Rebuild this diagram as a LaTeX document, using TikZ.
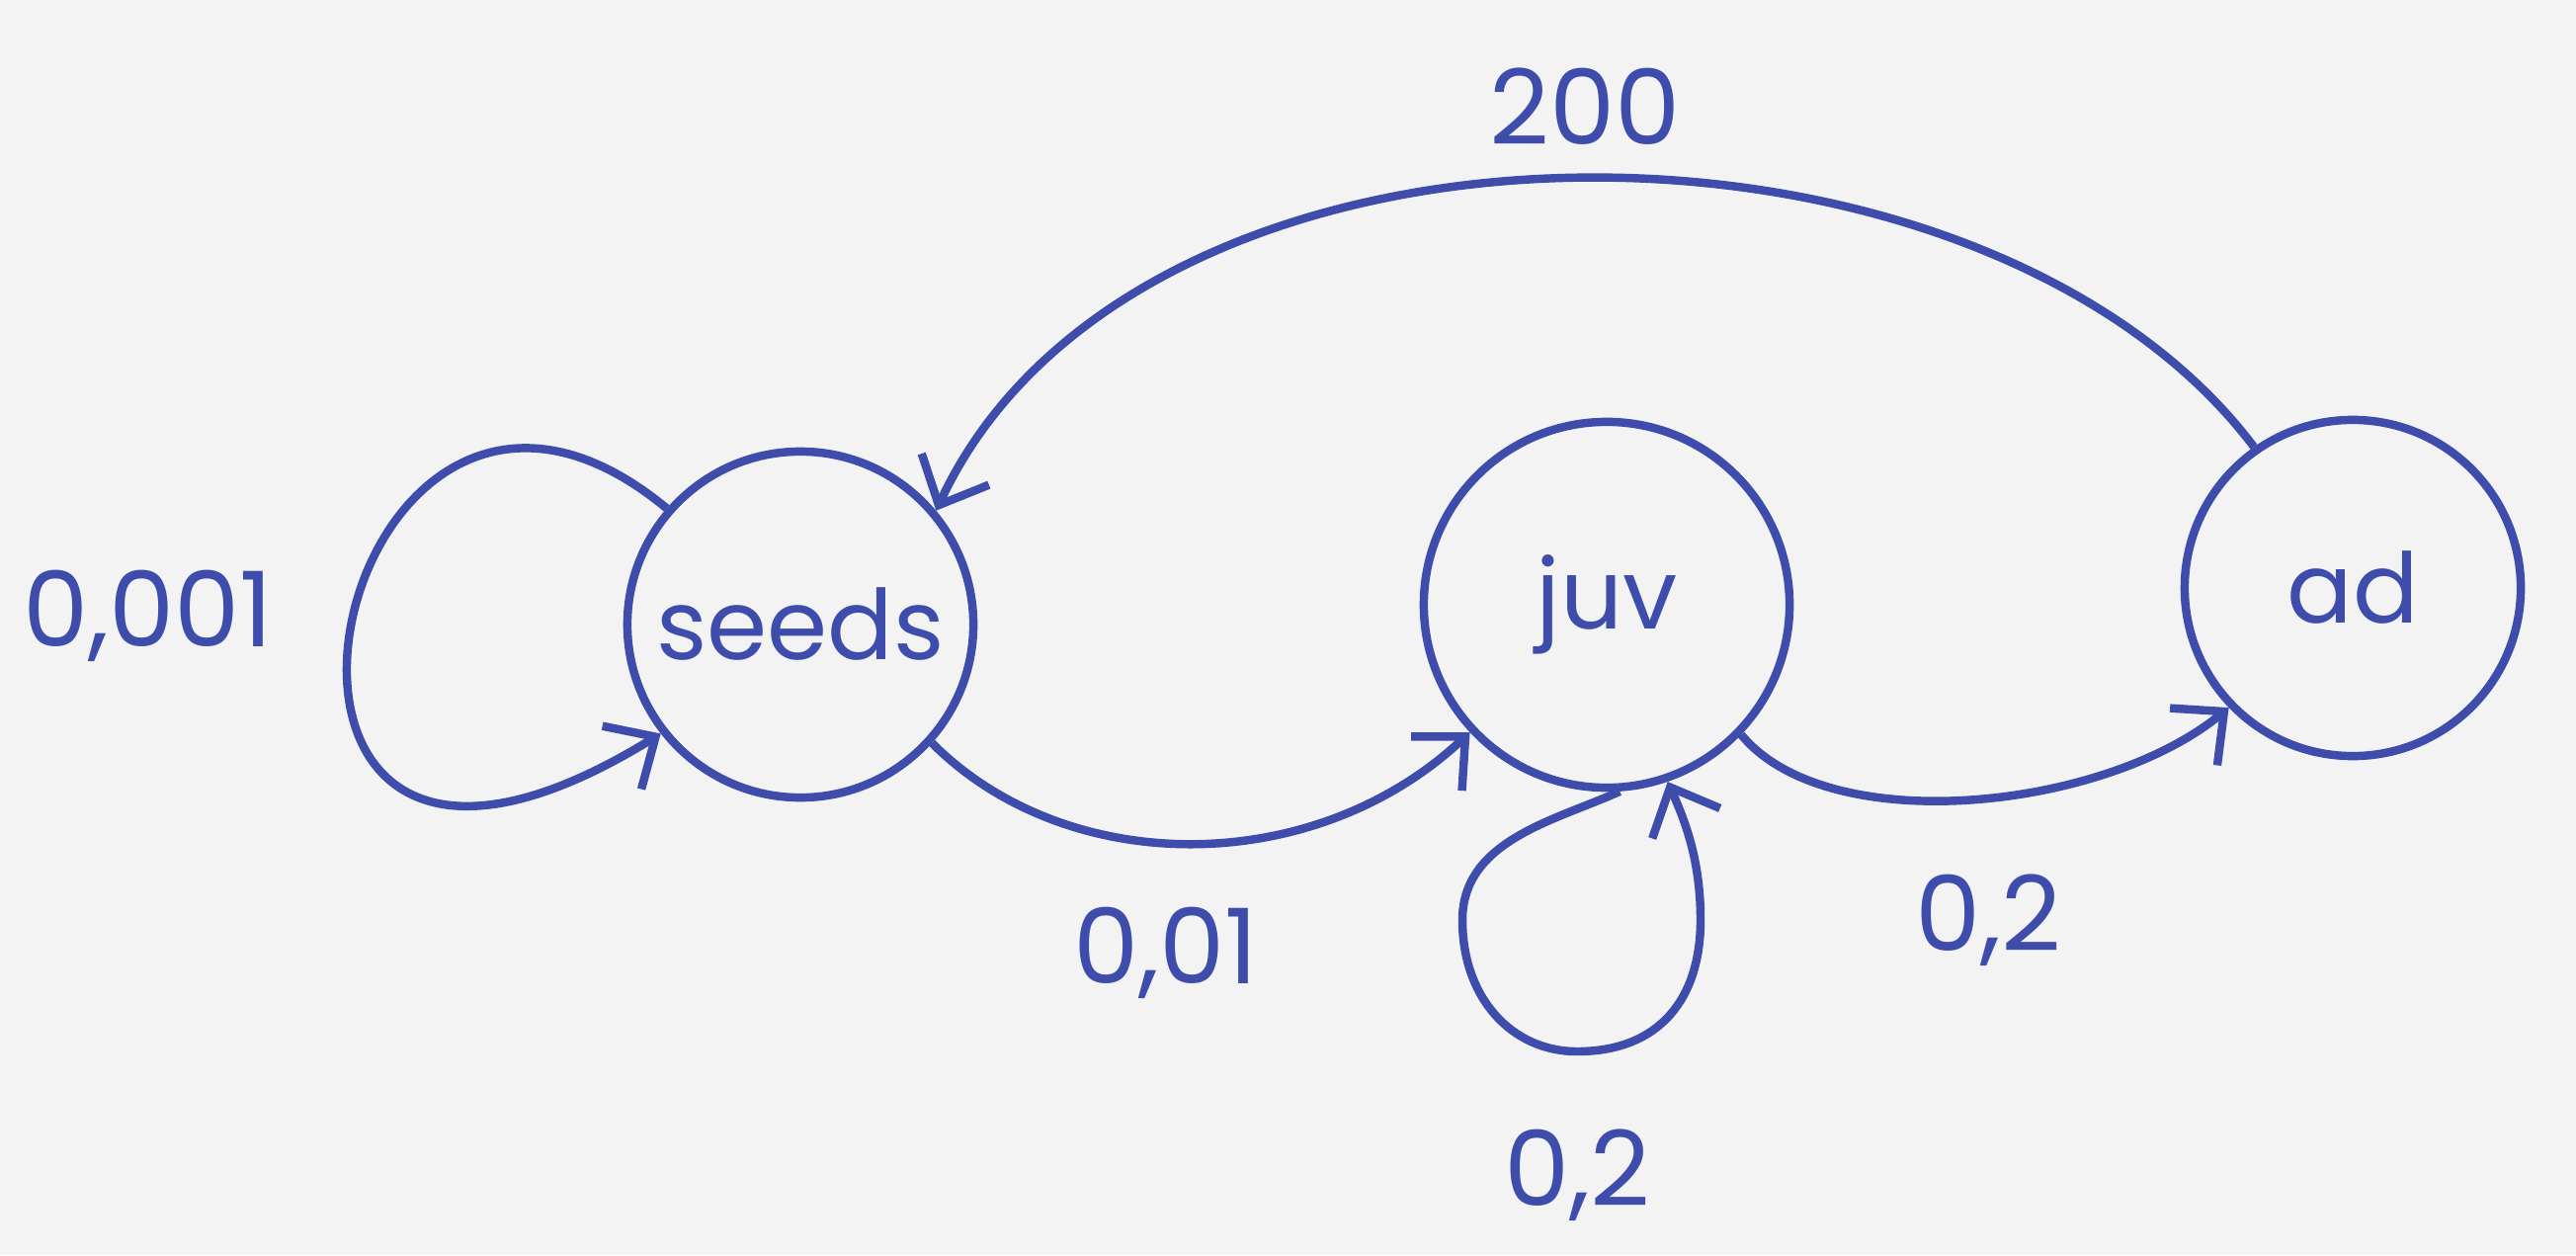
\documentclass[tikz,border=0pt]{standalone}
\usepackage{fontspec}
\setmainfont{Poppins}
\usetikzlibrary{arrows.meta}
\definecolor{ink}{RGB}{62,76,172}
\definecolor{paper}{RGB}{243,243,243}

\begin{document}
\begin{tikzpicture}[
  x=0.01cm, y=-0.01cm,
  stage/.style={circle, draw=ink, line width=2.4pt, text=ink, font=\fontsize{28}{32}\selectfont},
  trans/.style={draw=ink, line width=2.4pt, -{Straight Barb[length=4mm,width=7.5mm]}},
  rate/.style={text=ink, font=\fontsize{30}{36}\selectfont},
  ]
\fill[paper] (0,0) rectangle (2607,1270);
\useasboundingbox (0,0) rectangle (2607,1270);

% stages
\node[stage, minimum size=3.5cm] (seeds) at (810,632) {seeds};
\node[stage, minimum size=3.7cm] (juv) at (1626,612) {juv};
\node[stage, minimum size=3.4cm] (ad) at (2381,595) {ad};

% transitions
\draw[trans] (seeds.139) .. controls (330,230) and (170,1050) .. (seeds.218);
\draw[trans] (seeds.-42) .. controls (1080,889) and (1330,889) .. (juv.223);
\draw[trans] (juv.-86) .. controls (1575,830) and (1480,850) .. (1480,931)
  .. controls (1480,1010) and (1530,1064) .. (1596,1064)
  .. controls (1680,1064) and (1721,1010) .. (1721,931)
  .. controls (1721,870) and (1705,830) .. (juv.-71);
\draw[trans] (juv.-44) .. controls (1850,850) and (2130,820) .. (ad.224);
\draw[trans] (ad.125) .. controls (2000,80) and (1150,80) .. (seeds.40);

% rates
\node[rate] (r-seeds) at (150,623) {0,001};
\node[rate] (r-germ) at (1180,964) {0,01};
\node[rate] (r-juv) at (1596,1189) {0,2};
\node[rate] (r-mat) at (2012,931) {0,2};
\node[rate] (r-fec) at (1604,108) {200};
\end{tikzpicture}
\end{document}
